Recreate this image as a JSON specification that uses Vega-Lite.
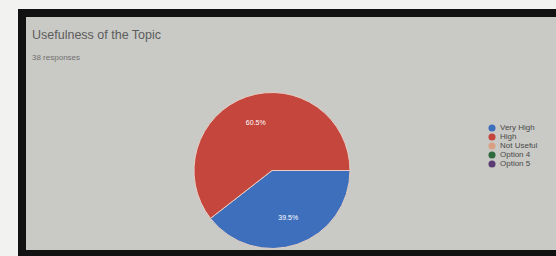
{
  "$schema": "https://vega.github.io/schema/vega-lite/v6.json",
  "width": 542,
  "height": 241,
  "autosize": "none",
  "padding": {"left": 22, "top": 13, "right": -8, "bottom": 2},
  "background": "#f2f2f0",
  "view": {"fill": "#c9c9c5", "stroke": "#121212", "strokeWidth": 8},
  "title": {
    "text": "Usefulness of the Topic",
    "subtitle": "38 responses",
    "anchor": "start",
    "frame": "group",
    "font": "Liberation Sans",
    "fontSize": 12.5,
    "fontWeight": "normal",
    "color": "#5c5c5c",
    "subtitleFont": "Liberation Sans",
    "subtitleFontSize": 8,
    "subtitleColor": "#707070",
    "subtitlePadding": 13,
    "offset": 0,
    "dx": 10,
    "dy": 49
  },
  "data": {
    "values": [
      {"answer": "Very High", "count": 15, "label": "39.5%", "idx": 1},
      {"answer": "High", "count": 23, "label": "60.5%", "idx": 2},
      {"answer": "Not Useful", "count": 0, "label": "", "idx": 3},
      {"answer": "Option 4", "count": 0, "label": "", "idx": 4},
      {"answer": "Option 5", "count": 0, "label": "", "idx": 5}
    ]
  },
  "encoding": {
    "theta": {"field": "count", "type": "quantitative", "stack": true, "scale": {"range": [1.5708, 7.854]}},
    "order": {"field": "idx", "type": "quantitative"},
    "color": {
      "field": "answer",
      "type": "nominal",
      "sort": null,
      "scale": {
        "domain": ["Very High", "High", "Not Useful", "Option 4", "Option 5"],
        "range": ["#3d6fbd", "#c4463d", "#d8a184", "#2f6a3f", "#5b3c72"]
      },
      "legend": {
        "orient": "none",
        "legendX": 466,
        "legendY": 111,
        "title": null,
        "symbolType": "circle",
        "symbolSize": 50,
        "symbolStrokeWidth": 0,
        "labelFont": "Liberation Sans",
        "labelFontSize": 8,
        "labelColor": "#4a4a4a",
        "rowPadding": 1,
        "labelOffset": 4
      }
    }
  },
  "layer": [
    {"mark": {"type": "arc", "outerRadius": 78, "stroke": "#e6cfc6", "strokeWidth": 1, "xOffset": -21, "yOffset": 37}},
    {
      "mark": {"type": "text", "radius": 50, "fill": "white", "fontSize": 7, "font": "Liberation Sans", "xOffset": -21, "yOffset": 37},
      "encoding": {"text": {"field": "label"}, "color": {"value": "white"}}
    }
  ]
}
